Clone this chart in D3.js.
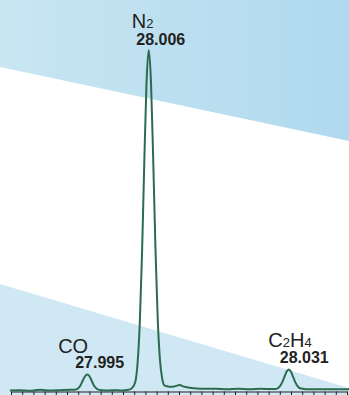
<!DOCTYPE html>
<html>
<head>
<meta charset="utf-8">
<script src="https://cdn.jsdelivr.net/npm/d3@7"></script>
<style>
  html, body { margin: 0; padding: 0; background: #fff; }
  svg { display: block; }
  text { font-family: "Liberation Sans", Arial, sans-serif; fill: #222; }
</style>
</head>
<body>
<svg id="chart" width="349" height="395"></svg>
<script>
// High-resolution mass spectrum around m/z 28 (relative intensity, N2 = 100)
const mz = [
  27.9812, 27.9830, 27.9848, 27.9866, 27.9884, 27.9902, 27.9920, 27.9930,
  27.9934, 27.9938, 27.9942, 27.9946, 27.9950, 27.9954, 27.9958, 27.9962,
  27.9966, 27.9970, 27.9976, 27.9988, 28.0000, 28.0012, 28.0024, 28.0030,
  28.0036, 28.0040, 28.0044, 28.0048, 28.0052, 28.0056, 28.0060, 28.0064,
  28.0068, 28.0072, 28.0076, 28.0080, 28.0084, 28.0088, 28.0094, 28.0100,
  28.0106, 28.0112, 28.0116, 28.0120, 28.0126, 28.0134, 28.0146, 28.0160,
  28.0180, 28.0200, 28.0220, 28.0240, 28.0260, 28.0276, 28.0286, 28.0290,
  28.0294, 28.0298, 28.0302, 28.0306, 28.0310, 28.0314, 28.0318, 28.0322,
  28.0326, 28.0330, 28.0340, 28.0360, 28.0380, 28.0400, 28.0418
];
const intensity = [
  0.0, 0.1, -0.1, 0.2, 0.0, 0.1, 0.2, 0.3,
  0.65, 1.5, 2.85, 4.1, 4.7, 4.2, 2.9, 1.5,
  0.7, 0.25, 0.1, 0.0, 0.1, 0.0, 0.2, 0.7,
  2.6, 8.0, 19.9, 40.3, 66.8, 90.4, 100, 90.5,
  67.5, 41.5, 21.0, 9.0, 3.5, 1.5, 1.2, 1.1,
  1.2, 1.5, 1.6, 1.3, 1.0, 0.8, 0.6, 0.5,
  0.5, 0.4, 0.5, 0.4, 0.5, 0.45, 0.46, 0.65,
  1.2, 2.3, 3.9, 5.5, 6.2, 5.5, 3.9, 2.3,
  1.2, 0.65, 0.4, 0.35, 0.4, 0.35, 0.4
];

// Peak annotations
const peakNames = [
  [{ t: "CO" }],
  [{ t: "N" }, { t: "2", sub: true }],
  [{ t: "C" }, { t: "2", sub: true }, { t: "H" }, { t: "4", sub: true }]
];
const peakMz = [27.995, 28.006, 28.031];
const peakLabels = ["27.995", "28.006", "28.031"];

// Axis tick positions (unlabelled, every 0.002)
const tickStart = 27.9814;
const tickStep = 0.002;
const tickCount = 31;
const tickValues = d3.range(tickCount).map(i => tickStart + i * tickStep);

const W = 349, H = 395;
const svg = d3.select("#chart");

const x = d3.scaleLinear().domain([27.9814, 28.0414]).range([11, 347]);
const y = d3.scaleLinear().domain([0, 100]).range([390.5, 50]);

// Background bands
const defs = svg.append("defs");
const grad = defs.append("linearGradient").attr("id", "bandTop")
  .attr("x1", "0").attr("x2", "1").attr("y1", "0").attr("y2", "0");
grad.append("stop").attr("offset", "0").attr("stop-color", "#c9e6f2");
grad.append("stop").attr("offset", "1").attr("stop-color", "#afd9ee");

svg.append("path")
  .attr("d", `M0,0 L${W},0 L${W},141 L0,67 Z`)
  .attr("fill", "url(#bandTop)");

svg.append("path")
  .attr("d", `M0,284 L${W},388 L${W},${H} L0,${H} Z`)
  .attr("fill", "#cfe8f4");

// Axis
const axis = d3.axisBottom(x)
  .tickValues(tickValues)
  .tickSizeInner(4)
  .tickSizeOuter(0)
  .tickFormat("");
const gAxis = svg.append("g")
  .attr("transform", "translate(0,391.5)")
  .call(axis);
gAxis.selectAll("path, line").attr("stroke", "#222").attr("stroke-width", 1);

// Spectrum trace
const pts = mz.map((m, i) => [m, intensity[i]]);
const line = d3.line()
  .x(d => x(d[0]))
  .y(d => y(d[1]))
  .curve(d3.curveMonotoneX);

svg.append("path")
  .datum(pts)
  .attr("d", line)
  .attr("fill", "none")
  .attr("stroke", "#2b6b4f")
  .attr("stroke-width", 2)
  .attr("stroke-linejoin", "round");

// Peak labels: species name above, exact mass below, placed relative to the peak centre
const nameDx = [-29, -17, -20.5];
const valueDx = [-12, -12.5, -9];
const nameBase = [352.7, 28, 347.2];
const valueBase = [367.7, 45, 363.3];

peakMz.forEach((m, i) => {
  const px = x(m);

  const nm = svg.append("text")
    .attr("x", px + nameDx[i])
    .attr("y", nameBase[i])
    .attr("font-size", 20);
  peakNames[i].forEach(part => {
    nm.append("tspan")
      .attr("font-size", part.sub ? 13 : 20)
      .text(part.t);
  });

  svg.append("text")
    .attr("x", px + valueDx[i])
    .attr("y", valueBase[i])
    .attr("font-size", 16)
    .attr("font-weight", "bold")
    .text(peakLabels[i]);
});
</script>
</body>
</html>
